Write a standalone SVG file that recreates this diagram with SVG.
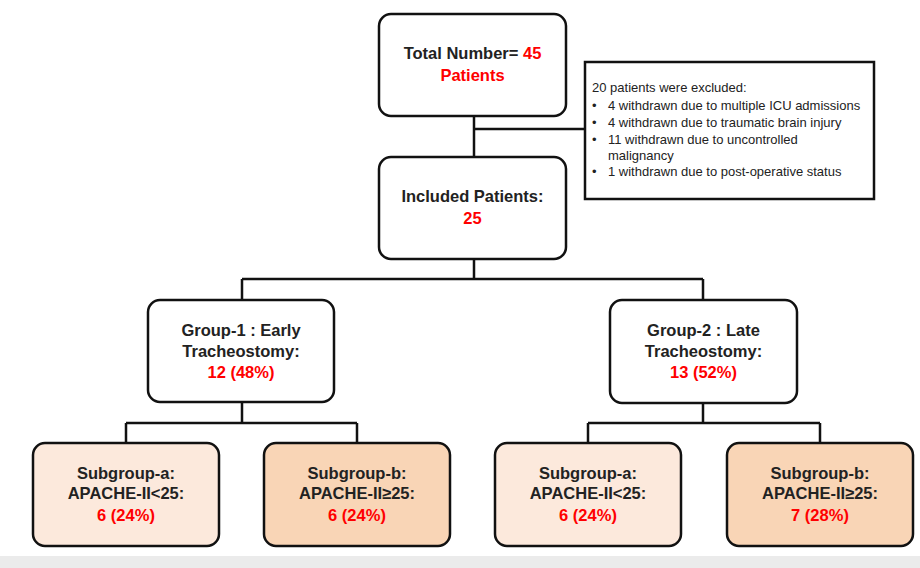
<svg xmlns="http://www.w3.org/2000/svg" width="920" height="568" viewBox="0 0 920 568">
<style>
.box{stroke:#111;stroke-width:2.5;fill:#fff}
.sa{fill:#fce9dc}
.sb{fill:#f9d5b6}
.t{font-family:"Liberation Sans",Arial,sans-serif;font-weight:bold;font-size:16.5px;fill:#222;text-anchor:middle}
.r{fill:#ff0000}
.ex{font-family:"Liberation Sans",Arial,sans-serif;font-size:13px;fill:#222}
.c{stroke:#111;stroke-width:2.5;fill:none}
</style>
<rect x="0" y="0" width="920" height="568" fill="#fff"/>
<rect x="0" y="556" width="920" height="12" fill="#ebebeb"/>
<g id="connectors">
<path class="c" d="M474 116V157"/>
<path class="c" d="M474 129H585"/>
<path class="c" d="M474 259V279M242 279H703M242 279V300M703 279V300"/>
<path class="c" d="M242 402V423M126 423H357M126 423V443M357 423V443"/>
<path class="c" d="M703 403V423M588 423H820M588 423V443M820 423V443"/>
</g>
<g id="total">
<rect class="box" x="379" y="14" width="187" height="102" rx="12"/>
<text class="t" x="472.5" y="59">Total Number=<tspan class="r"> 45</tspan></text>
<text class="t r" x="472.5" y="81">Patients</text>
</g>
<g id="excluded">
<rect x="585" y="62" width="289" height="137" fill="#fff" stroke="#111" stroke-width="2.5"/>
<text class="ex" x="592" y="92">20 patients were excluded:</text>
<text class="ex" x="592" y="110">•</text><text class="ex" x="608" y="110">4 withdrawn due to multiple ICU admissions</text>
<text class="ex" x="592" y="127">•</text><text class="ex" x="608" y="127">4 withdrawn due to traumatic brain injury</text>
<text class="ex" x="592" y="144">•</text><text class="ex" x="608" y="144">11 withdrawn due to uncontrolled</text>
<text class="ex" x="608" y="160">malignancy</text>
<text class="ex" x="592" y="176">•</text><text class="ex" x="608" y="176">1 withdrawn due to post-operative status</text>
</g>
<g id="included">
<rect class="box" x="379" y="157" width="187" height="102" rx="12"/>
<text class="t" x="472.5" y="202">Included Patients:</text>
<text class="t r" x="472.5" y="224">25</text>
</g>
<g id="group1">
<rect class="box" x="148" y="300" width="186" height="102" rx="12"/>
<text class="t" x="241" y="336">Group-1 : Early</text>
<text class="t" x="241" y="357">Tracheostomy:</text>
<text class="t r" x="241" y="378">12 (48%)</text>
</g>
<g id="group2">
<rect class="box" x="610" y="300" width="187" height="103" rx="12"/>
<text class="t" x="703.5" y="336">Group-2 : Late</text>
<text class="t" x="703.5" y="357">Tracheostomy:</text>
<text class="t r" x="703.5" y="378">13 (52%)</text>
</g>
<g id="g1a">
<rect class="box sa" x="33" y="443" width="186" height="103" rx="12"/>
<text class="t" x="126" y="479">Subgroup-a:</text>
<text class="t" x="126" y="499">APACHE-II&lt;25:</text>
<text class="t r" x="126" y="521">6 (24%)</text>
</g>
<g id="g1b">
<rect class="box sb" x="264" y="443" width="186" height="103" rx="12"/>
<text class="t" x="357" y="479">Subgroup-b:</text>
<text class="t" x="357" y="499">APACHE-II≥25:</text>
<text class="t r" x="357" y="521">6 (24%)</text>
</g>
<g id="g2a">
<rect class="box sa" x="495" y="443" width="186" height="103" rx="12"/>
<text class="t" x="588" y="479">Subgroup-a:</text>
<text class="t" x="588" y="499">APACHE-II&lt;25:</text>
<text class="t r" x="588" y="521">6 (24%)</text>
</g>
<g id="g2b">
<rect class="box sb" x="727" y="443" width="186" height="103" rx="12"/>
<text class="t" x="820" y="479">Subgroup-b:</text>
<text class="t" x="820" y="499">APACHE-II≥25:</text>
<text class="t r" x="820" y="521">7 (28%)</text>
</g>
</svg>
